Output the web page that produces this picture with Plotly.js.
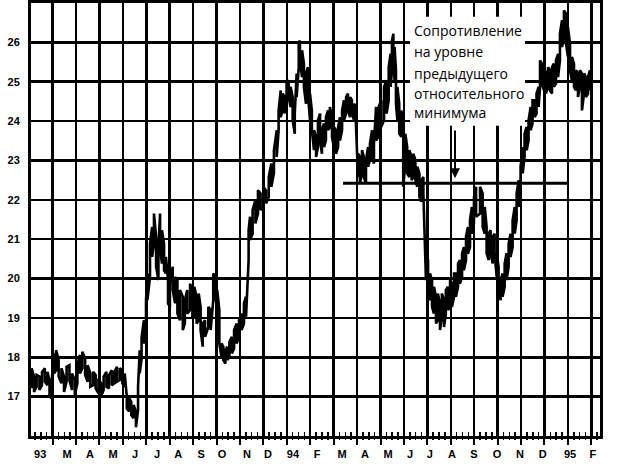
<!DOCTYPE html>
<html><head><meta charset="utf-8">
<script src="https://cdn.plot.ly/plotly-3.0.1.min.js"></script>
<style>html,body{margin:0;padding:0;background:#fff}</style>
</head><body><div id="chart" style="width:617px;height:466px"></div>
<script>
// time position in months (interval k = k-th month shown), daily-ish high/low bars
const tm = [0.11,0.21,0.32,0.44,0.55,0.67,0.78,0.87,0.95,1.06,1.15,1.26,1.38,1.49,1.60,1.72,1.83,1.95,2.06,2.17,2.27,2.39,2.50,2.61,2.73,2.84,2.96,3.07,3.18,3.30,3.41,3.53,3.64,3.75,3.87,3.98,4.08,4.17,4.27,4.36,4.46,4.56,4.65,4.72,4.80,4.90,4.99,
5.05,5.16,5.25,5.33,5.42,5.52,5.59,5.67,5.76,5.84,5.93,6.01,6.13,6.23,6.33,6.44,6.56,6.65,6.75,6.87,6.97,7.05,7.15,7.24,7.32,7.41,7.51,7.65,7.75,7.86,7.95,8.03,8.12,8.21,8.29,8.38,8.46,8.55,8.65,8.75,8.86,8.96,9.07,9.17,9.26,9.37,
9.43,9.54,9.66,9.77,9.88,10.00,10.11,10.23,10.34,10.45,10.57,10.65,10.74,10.82,10.91,10.99,11.08,11.16,11.25,11.34,11.42,11.51,11.56,11.65,11.73,11.82,11.90,11.99,12.07,12.16,12.25,12.33,12.42,12.50,12.59,12.67,12.76,12.84,12.93,13.01,13.10,13.19,13.27,13.36,13.44,13.53,13.61,13.70,13.78,13.87,13.95,14.04,14.12,14.21,14.29,14.38,14.47,14.55,14.64,14.72,
14.81,14.92,15.03,15.15,15.26,15.35,15.43,15.49,15.55,15.60,15.66,15.72,15.80,15.89,15.97,16.06,16.14,16.23,16.33,16.40,16.49,16.57,16.66,16.74,16.83,16.94,17.03,17.11,17.20,17.28,17.37,17.45,17.54,17.62,17.71,17.79,17.88,17.97,18.05,18.14,18.22,18.31,18.39,18.48,18.56,18.65,18.73,18.82,18.90,18.99,19.08,
19.25,19.36,19.45,19.53,19.62,19.70,19.79,19.87,19.96,20.04,20.13,20.21,20.30,20.38,20.47,20.55,20.64,20.73,20.81,20.90,20.98,21.07,21.15,21.24,21.32,21.41,21.49,21.58,21.66,21.75,21.81,21.89,21.98,22.06,22.15,22.23,22.32,22.40,22.49,22.58,22.66,22.75,22.83,22.92,23.00,23.09,23.17,23.26,23.34,23.43,23.51,23.60,23.69,23.77,23.86,23.94];
const hi = [17.72,17.51,17.55,17.51,17.63,17.72,17.63,17.42,17.29,18.10,18.18,17.93,17.72,17.51,17.76,17.80,17.59,17.42,17.80,18.06,18.14,17.97,17.80,17.59,17.63,17.55,17.46,17.34,17.51,17.63,17.55,17.67,17.63,17.76,17.72,17.67,17.59,17.00,16.96,16.87,16.79,16.62,17.25,18.18,18.50,18.94,19.45,
20.13,20.89,21.31,21.65,21.06,20.80,21.65,21.23,20.89,20.55,19.96,19.87,20.30,20.04,19.96,19.71,19.54,19.45,19.71,19.87,19.71,19.79,19.54,19.62,19.28,18.86,18.94,19.28,19.20,20.13,20.04,19.71,19.20,18.35,18.27,18.18,18.27,18.39,18.52,18.69,18.86,18.94,19.11,19.37,19.54,21.23,
21.57,21.74,21.99,22.24,22.16,22.33,22.24,22.58,22.92,23.26,23.77,24.27,24.78,24.70,24.61,24.95,25.04,24.87,24.61,24.19,25.21,25.97,26.05,25.80,25.46,25.21,25.37,24.70,24.27,23.77,23.60,24.02,24.19,23.77,23.94,24.10,24.27,24.36,24.10,23.85,23.77,23.85,24.10,24.27,24.53,24.61,24.70,24.61,24.53,24.44,24.36,23.17,23.09,23.26,23.09,23.01,23.34,23.43,23.77,23.43,
24.36,24.36,24.53,24.87,25.04,25.37,25.71,26.05,26.22,25.88,25.29,24.87,24.44,24.27,24.02,23.68,23.34,23.26,23.09,23.17,23.01,22.84,22.67,22.50,22.58,20.63,20.47,20.13,19.96,19.79,19.54,19.62,19.37,19.62,19.45,19.71,19.79,19.96,19.87,20.13,20.13,20.38,20.47,20.63,20.80,21.06,21.31,21.48,21.82,22.07,22.33,
22.33,22.16,21.82,21.31,21.14,21.23,21.06,21.14,20.64,20.30,19.96,20.13,20.38,20.64,20.89,21.14,21.48,21.82,22.16,22.50,22.84,23.34,23.68,23.85,24.02,24.36,24.53,24.53,24.70,24.87,25.54,25.46,25.37,25.21,25.37,25.29,25.37,25.46,25.54,25.71,26.22,26.56,26.81,26.73,26.39,25.97,25.63,25.46,25.29,25.21,25.29,25.21,25.21,25.12,25.12,25.29];
const lo = [17.21,17.12,17.25,17.17,17.29,17.38,17.29,17.04,16.95,17.59,17.67,17.51,17.34,17.12,17.38,17.42,17.17,17.04,17.34,17.59,17.72,17.55,17.38,17.25,17.29,17.21,17.08,17.00,17.17,17.25,17.21,17.29,17.34,17.38,17.42,17.34,17.25,16.70,16.62,16.53,16.45,16.22,16.66,17.59,17.95,18.35,18.69,
19.45,20.04,20.55,20.89,20.30,19.96,20.80,20.38,20.21,20.13,19.37,19.28,19.71,19.37,19.11,18.94,18.69,18.86,19.11,19.20,19.03,19.03,18.86,18.94,18.69,18.27,18.52,18.77,18.69,19.45,19.54,19.20,18.35,18.01,17.93,17.84,17.93,18.01,18.10,18.22,18.35,18.52,18.69,18.86,19.03,20.47,
20.98,21.14,21.40,21.65,21.74,21.82,21.91,22.07,22.33,22.67,23.09,23.77,24.10,24.27,24.19,24.44,24.61,24.36,24.02,23.68,24.61,25.37,25.54,25.12,24.87,24.44,24.70,24.02,23.77,23.26,23.09,23.34,23.51,23.17,23.34,23.51,23.77,23.85,23.60,23.34,23.17,23.34,23.51,23.77,24.02,24.19,24.27,24.10,24.19,24.02,23.94,22.58,22.41,22.67,22.58,22.41,22.84,23.01,23.09,22.92,
23.51,23.60,23.85,24.02,24.19,24.53,24.87,25.29,25.54,25.04,24.44,24.02,23.68,23.60,22.33,22.92,22.67,22.58,22.50,22.58,22.50,22.33,22.07,21.95,22.16,19.96,19.79,19.45,19.28,19.11,18.86,18.94,18.69,19.03,18.77,19.11,19.20,19.28,19.28,19.54,19.54,19.79,19.87,20.04,20.21,20.47,20.63,20.80,21.14,21.40,21.57,
21.65,21.31,21.14,20.64,20.47,20.64,20.38,20.64,20.04,19.71,19.45,19.54,19.79,19.96,20.30,20.55,20.80,21.14,21.48,21.82,22.16,22.67,23.09,23.26,23.51,23.77,23.94,24.10,24.19,24.36,24.87,24.95,24.78,24.70,24.87,24.78,24.70,24.87,24.95,25.12,25.54,25.88,26.14,25.97,25.63,25.29,25.04,24.87,24.78,24.61,24.87,24.27,24.70,24.61,24.70,24.78];

const yTicks = [17,18,19,20,21,22,23,24,25,26];
const monthLabels = ['93','M','A','M','J','J','A','S','O','N','D','94','F','M','A','M','J','J','A','S','O','N','D','95','F'];
const monthLabelPos = [0.47,1.62,2.60,3.58,4.52,5.46,6.36,7.34,8.23,9.30,10.20,11.26,12.29,13.36,14.34,15.32,16.26,17.11,18.05,18.99,19.97,20.95,21.93,23.09,24.07];
const monthBounds = [1,2,3,4,5,6,7,8,9,10,11,12,13,14,15,16,17,18,19,20,21,22,23,24];

// resistance level at the previous relative low
const resX = [13.40, 23.00];
const resY = [22.42, 22.42];
const noteLines = ['Сопротивление','на уровне','предыдущего','относительного','минимума'];
const noteY = [26.29, 25.76, 25.22, 24.71, 24.21];

const xr = [0.08, 24.37];
const yr = [16, 27];

const zx = [], zy = [];
for (let i = 0; i < tm.length; i++) {
  if (i % 2 === 0) { zx.push(tm[i], tm[i]); zy.push(lo[i], hi[i]); }
  else { zx.push(tm[i], tm[i]); zy.push(hi[i], lo[i]); }
}

const traces = [
  {type:'scatter', mode:'lines', x: zx, y: zy, line:{color:'#000', width:2.6}, hoverinfo:'skip', showlegend:false},
  {type:'scatter', mode:'lines', x: resX, y: resY, line:{color:'#000', width:3}, hoverinfo:'skip', showlegend:false}
];

const annotations = noteLines.map((t, i) => ({
  x: 16.34, y: noteY[i], xref:'x', yref:'y', xanchor:'left', yanchor:'middle',
  text: t, showarrow:false, font:{family:'Open Sans', size:14, color:'#000'}
}));
annotations.push({
  x: 18.18, y: 22.55, ax: 18.18, ay: 23.80, xref:'x', yref:'y', axref:'x', ayref:'y',
  text:'', showarrow:true, arrowhead:2, arrowsize:1, arrowwidth:2, arrowcolor:'#000'
});

const layout = {
  width:617, height:466,
  margin:{l:31, r:17, t:3, b:30, pad:0},
  paper_bgcolor:'#fff', plot_bgcolor:'#fff',
  showlegend:false,
  xaxis:{
    range: xr, tickmode:'array', tickvals: monthLabelPos, ticktext: monthLabels,
    ticks:'', showgrid:false, zeroline:false,
    showline:true, mirror:true, linecolor:'#000', linewidth:3,
    tickfont:{family:'Liberation Sans', size:11, color:'#000', weight:'bold'},
    ticklabelstandoff: 6,
    minor:{tickmode:'array', tickvals: monthBounds, showgrid:true, gridcolor:'#000', gridwidth:2.5, ticks:'outside', ticklen:6, tickwidth:2, tickcolor:'#000'}
  },
  xaxis2:{
    range: xr, overlaying:'x', anchor:'y', side:'bottom',
    tickmode:'linear', tick0:0, dtick:0.25, ticks:'inside', ticklen:4, tickwidth:1.5, tickcolor:'#000',
    showticklabels:false, showgrid:false, zeroline:false, showline:false
  },
  xaxis3:{
    range: xr, overlaying:'x', anchor:'y', side:'bottom',
    tickmode:'linear', tick0:0, dtick:0.25, ticks:'outside', ticklen:3, tickwidth:1.5, tickcolor:'#000',
    showticklabels:false, showgrid:false, zeroline:false, showline:false
  },
  yaxis:{
    range: yr, tickmode:'array', tickvals: yTicks, ticks:'',
    showgrid:true, gridcolor:'#000', gridwidth:2.5, zeroline:false,
    showline:true, mirror:true, linecolor:'#000', linewidth:3,
    tickfont:{family:'Liberation Sans', size:11, color:'#000', weight:'bold'},
    ticklabelstandoff: 6
  },
  shapes:[
    {type:'rect', xref:'x', yref:'y', x0:16.26, x1:21.17, y0:23.88, y1:26.65, fillcolor:'#fff', line:{width:0}, layer:'between'}
  ],
  annotations: annotations
};

traces.push({type:'scatter', mode:'markers', x:[], y:[], xaxis:'x2', yaxis:'y', hoverinfo:'skip', showlegend:false});
traces.push({type:'scatter', mode:'markers', x:[], y:[], xaxis:'x3', yaxis:'y', hoverinfo:'skip', showlegend:false});

Plotly.newPlot('chart', traces, layout, {displayModeBar:false, staticPlot:true});
</script>
</body></html>
